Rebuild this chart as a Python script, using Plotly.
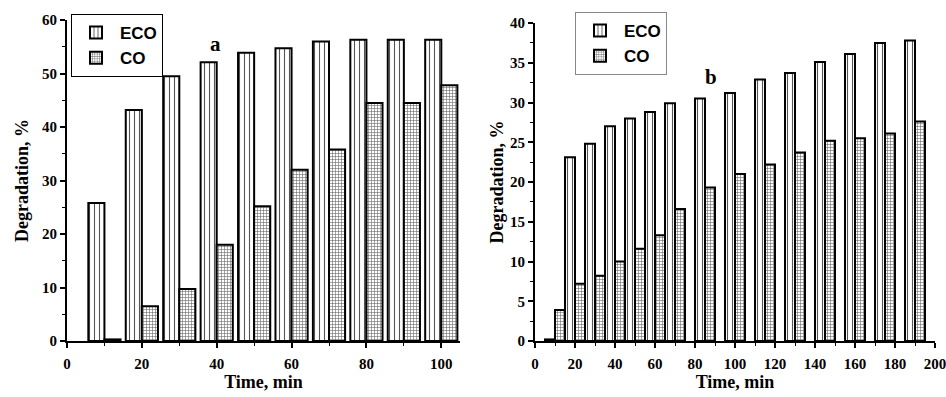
import plotly.graph_objects as go

# ---- data (panel a) ----
time_a = [10, 20, 30, 40, 50, 60, 70, 80, 90, 100]
eco_a = [25.8, 43.2, 49.5, 52.1, 53.9, 54.7, 56.0, 56.3, 56.3, 56.3]
co_a = [0.3, 6.5, 9.7, 18.0, 25.2, 32.0, 35.8, 44.5, 44.5, 47.8]

# ---- data (panel b) ----
time_b = [10, 20, 30, 40, 50, 60, 70, 85, 100, 115, 130, 145, 160, 175, 190]
eco_b = [0.2, 23.1, 24.8, 27.0, 28.0, 28.8, 29.9, 30.5, 31.2, 32.9, 33.7, 35.1, 36.1, 37.5, 37.8]
co_b = [3.9, 7.2, 8.2, 10.0, 11.6, 13.3, 16.6, 19.3, 21.0, 22.2, 23.7, 25.2, 25.5, 26.1, 27.6]

W = 946
H = 397

SERIF = "Liberation Serif, Times New Roman, serif"
SANS = "Liberation Sans, Arial, sans-serif"

eco_pat = dict(shape="|", size=5, solidity=0.22, fgcolor="#555", bgcolor="white", fillmode="replace")
co_pat = dict(shape="+", size=3, solidity=0.35, fgcolor="#666", bgcolor="white", fillmode="replace")
outline = dict(color="black", width=2)

fig = go.Figure()

wa = 4.3
fig.add_trace(go.Bar(x=time_a, y=eco_a, name="ECO", width=wa, offset=-wa,
                     marker=dict(color="white", pattern=eco_pat, line=outline),
                     xaxis="x", yaxis="y", legend="legend"))
fig.add_trace(go.Bar(x=time_a, y=co_a, name="CO", width=wa, offset=0,
                     marker=dict(color="white", pattern=co_pat, line=outline),
                     xaxis="x", yaxis="y", legend="legend"))

wb = 5
fig.add_trace(go.Bar(x=time_b, y=eco_b, name="ECO", width=wb, offset=-wb,
                     marker=dict(color="white", pattern=eco_pat, line=outline),
                     xaxis="x2", yaxis="y2", legend="legend2"))
fig.add_trace(go.Bar(x=time_b, y=co_b, name="CO", width=wb, offset=0,
                     marker=dict(color="white", pattern=co_pat, line=outline),
                     xaxis="x2", yaxis="y2", legend="legend2"))

tickfont = dict(family=SERIF, size=15, color="black", weight="bold")
titlefont = dict(family=SERIF, size=18, color="black", weight="bold")
minor_tick = dict(ticks="outside", ticklen=3, tickcolor="black", tickwidth=1.2)


def axis(**kw):
    base = dict(showline=True, linecolor="black", linewidth=2, ticks="outside",
                ticklen=5, tickwidth=1.5, tickcolor="black", showgrid=False,
                zeroline=False, tickfont=tickfont, automargin=False, tick0=0,
                ticklabeloverflow="allow")
    base.update(kw)
    return base


def px_x(p):
    return p / W


def px_y(p):
    return 1 - p / H


fig.update_layout(
    width=W, height=H,
    margin=dict(l=0, r=0, t=0, b=0, autoexpand=False),
    paper_bgcolor="white", plot_bgcolor="white",
    barmode="overlay",
    xaxis=axis(domain=[px_x(67), px_x(460)], range=[0, 105], dtick=20,
               minor=dict(minor_tick, dtick=10), anchor="y", ticklabelstandoff=3,
               title=dict(text="Time, min", font=titlefont, standoff=0)),
    yaxis=axis(domain=[px_y(341), px_y(20)], range=[0, 60], dtick=10,
               minor=dict(minor_tick, dtick=5), anchor="x",
               title=dict(text="Degradation, %", font=titlefont, standoff=9)),
    xaxis2=axis(domain=[px_x(535), px_x(935)], range=[0, 200], dtick=20,
                minor=dict(minor_tick, dtick=10), anchor="y2", ticklabelstandoff=3,
                title=dict(text="Time, min", font=titlefont, standoff=0)),
    yaxis2=axis(domain=[px_y(341), px_y(23)], range=[0, 40], dtick=5,
                minor=dict(minor_tick, dtick=2.5), anchor="x2",
                title=dict(text="Degradation, %", font=titlefont, standoff=2)),
    legend=dict(x=px_x(71), y=px_y(14), xanchor="left", yanchor="top",
                bordercolor="black", borderwidth=1, bgcolor="white",
                font=dict(family=SANS, size=17, color="black", weight="bold"),
                tracegroupgap=0, itemwidth=38),
    legend2=dict(x=px_x(575), y=px_y(12), xanchor="left", yanchor="top",
                 bordercolor="#888", borderwidth=1, bgcolor="white",
                 font=dict(family=SANS, size=17, color="black", weight="bold"),
                 tracegroupgap=0, itemwidth=38),
    annotations=[
        dict(text="a", x=px_x(208), y=px_y(30), xref="paper", yref="paper",
             showarrow=False, font=dict(family=SERIF, size=21, color="black", weight="bold")),
        dict(text="b", x=px_x(719), y=px_y(63), xref="paper", yref="paper",
             showarrow=False, font=dict(family=SERIF, size=21, color="black", weight="bold")),
    ],
)

# remove the default 8px page margin so the figure fills the window exactly
fig.write_html("out.html",
               config={"displayModeBar": False},
               post_script="document.body.style.margin='0';document.body.style.overflow='hidden';")
